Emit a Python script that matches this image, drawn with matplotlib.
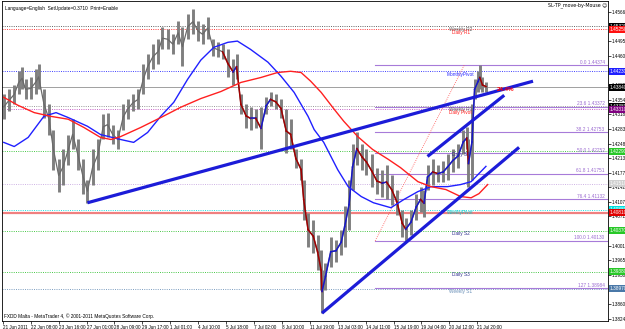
import matplotlib
matplotlib.use('Agg')
import matplotlib.pyplot as plt
import matplotlib.transforms as mtransforms

plt.rcParams['font.family'] = ['Liberation Sans', 'DejaVu Sans']

# EURUSD H1, 21 Jun - 21 Jul 2011, sampled price range (bar index, high, low)
bars = [1, 7, 13, 18, 22, 26, 32, 38, 41, 47,
        53, 58, 64, 69, 75, 80, 86, 92, 97, 103,
        109, 115, 120, 126, 132, 138, 143, 149, 155, 161,
        166, 172, 178, 183, 189, 195, 201, 206, 212, 218,
        224, 229, 235, 241, 247, 252, 258, 264, 268, 273,
        279, 284, 290, 296, 302, 307, 313, 319, 325, 330,
        336, 342, 345, 350, 356, 361, 365, 366, 370, 376,
        382, 388, 392, 397, 401, 406, 412, 417, 423, 429,
        435, 440, 446, 452, 458, 462, 468, 474, 479, 483,
        487, 493, 499, 505, 510, 516, 522, 528, 532, 534,
        538, 541, 545, 547, 550, 554]
highs = [1.4367, 1.4379, 1.4391, 1.4423, 1.4433, 1.4404, 1.4408, 1.4428, 1.4440, 1.4379,
         1.4343, 1.4282, 1.4210, 1.4234, 1.4270, 1.4307, 1.4258, 1.4210, 1.4161, 1.4234,
         1.4258, 1.4319, 1.4323, 1.4294, 1.4282, 1.4343, 1.4355, 1.4367, 1.4379, 1.4440,
         1.4464, 1.4488, 1.4501, 1.4530, 1.4525, 1.4513, 1.4544, 1.4530, 1.4561, 1.4573,
         1.4544, 1.4537, 1.4554, 1.4501, 1.4493, 1.4488, 1.4476, 1.4452, 1.4464, 1.4367,
         1.4343, 1.4336, 1.4331, 1.4336, 1.4360, 1.4372, 1.4367, 1.4355, 1.4331, 1.4307,
         1.4234, 1.4210, 1.4161, 1.4081, 1.4064, 1.4028, 1.3991, 1.3943, 1.3960, 1.4023,
         1.4016, 1.4040, 1.4096, 1.4161, 1.4246, 1.4275, 1.4246, 1.4234, 1.4222, 1.4190,
         1.4185, 1.4197, 1.4173, 1.4137, 1.4088, 1.4069, 1.4088, 1.4125, 1.4143, 1.4137,
         1.4197, 1.4210, 1.4197, 1.4205, 1.4222, 1.4234, 1.4246, 1.4282, 1.4289, 1.4258,
         1.4343, 1.4404, 1.4423, 1.4437, 1.4408, 1.4398]
lows = [1.4307, 1.4326, 1.4343, 1.4367, 1.4379, 1.4355, 1.4355, 1.4367, 1.4379, 1.4311,
        1.4270, 1.4185, 1.4132, 1.4149, 1.4197, 1.4234, 1.4185, 1.4125, 1.4105, 1.4149,
        1.4185, 1.4258, 1.4265, 1.4246, 1.4234, 1.4282, 1.4307, 1.4326, 1.4331, 1.4367,
        1.4404, 1.4428, 1.4440, 1.4476, 1.4476, 1.4464, 1.4488, 1.4435, 1.4501, 1.4513,
        1.4496, 1.4488, 1.4501, 1.4459, 1.4457, 1.4452, 1.4408, 1.4391, 1.4404, 1.4319,
        1.4287, 1.4282, 1.4287, 1.4234, 1.4319, 1.4338, 1.4331, 1.4311, 1.4226, 1.4234,
        1.4190, 1.4161, 1.4064, 1.3999, 1.3984, 1.3943, 1.3894, 1.3838, 1.3894, 1.3950,
        1.3962, 1.3979, 1.3999, 1.4040, 1.4137, 1.4197, 1.4185, 1.4173, 1.4142, 1.4125,
        1.4120, 1.4113, 1.4100, 1.4076, 1.4023, 1.4013, 1.4028, 1.4064, 1.4083, 1.4071,
        1.4137, 1.4149, 1.4154, 1.4154, 1.4161, 1.4180, 1.4190, 1.4222, 1.4234, 1.4142,
        1.4161, 1.4355, 1.4374, 1.4379, 1.4372, 1.4374]

# moving averages
blue_bars = [1, 13, 29, 47, 61, 75, 97, 112, 135, 150, 166, 181, 196, 212, 227, 242, 258, 269, 284, 304,
             319, 334, 350, 357, 368, 384, 396, 411, 425, 445, 460, 476, 491, 510, 525, 537, 554]
blue_ma = [1.4251, 1.4241, 1.4263, 1.4314, 1.4323, 1.4311, 1.4290, 1.4270, 1.4258, 1.4251,
           1.4275, 1.4314, 1.4348, 1.4404, 1.4450, 1.4481, 1.4493, 1.4496, 1.4476, 1.4445,
           1.4411, 1.4372, 1.4314, 1.4282, 1.4251, 1.4185, 1.4144, 1.4120, 1.4105, 1.4093,
           1.4113, 1.4132, 1.4144, 1.4144, 1.4149, 1.4156, 1.4193]
red_bars = [1, 17, 36, 55, 75, 93, 112, 124, 135, 158, 181, 204, 227, 250, 273, 296, 315, 330, 342, 353,
            365, 380, 391, 407, 424, 442, 456, 476, 491, 508, 525, 537, 546, 556]
red_ma = [1.4360, 1.4341, 1.4323, 1.4314, 1.4307, 1.4287, 1.4263, 1.4258, 1.4265, 1.4287,
          1.4311, 1.4336, 1.4357, 1.4374, 1.4396, 1.4408, 1.4420, 1.4423, 1.4420, 1.4399,
          1.4372, 1.4331, 1.4302, 1.4265, 1.4234, 1.4210, 1.4190, 1.4156, 1.4144, 1.4137,
          1.4120, 1.4117, 1.4127, 1.4149]

# trendlines (start bar, end bar), (start price, end price)
trend_bars = [(97, 608), (366, 592), (487, 575)]
trend_prices = [(1.4105, 1.4399), (1.3838, 1.4239), (1.4217, 1.4365)]

# pivot levels
level_names = ['Weekly R2', 'Daily R1', 'MonthlyPivot', 'Weekly R1', 'Daily Pivot', 'Daily S1',
               '', 'WeeklyPivot', '', 'Daily S2', 'Daily S3', 'Weekly S1']
level_prices = [1.4532, 1.4525, 1.4423, 1.4338, 1.4331, 1.4229,
                1.4151, 1.4088, 1.4081, 1.4037, 1.3938, 1.3897]
level_colors = ['#505050', '#ff2020', '#2828ff', '#8c8c8c', '#c050c0', '#30c030',
                '#c8a8e0', '#00d8d8', '#f08080', '#30c030', '#30c030', '#6a90b8']
level_text = ['#606060', '#ff2020', '#2828ff', '#606060', '#ff2020', '#303090',
              None, '#00c8c8', None, '#303090', '#303090', '#6a90b8']
tag_colors = ['#000000', '#ff1010', '#2020ff', '#000000', '#800080', '#28c828',
              '#d0d0d0', '#00e0e0', '#e00000', '#28c828', '#28c828', '#4a78a8']
bid = 1.4384

# fibonacci retracement
fib_high = 1.44374
fib_low = 1.40130
fib_pct = [0.0, 23.6, 38.2, 50.0, 61.8, 76.4, 100.0, 127.0]
fib_bars = (427, 529)

xtick_bars = [0, 32, 64, 96, 128, 160, 192, 224, 256, 288, 320, 352, 384, 416, 448, 480, 512, 544]
xtick_labels = ['21 Jun 2011', '22 Jun 08:00', '23 Jun 16:00', '27 Jun 01:00', '28 Jun 09:00',
                '29 Jun 17:00', '1 Jul 01:00', '4 Jul 10:00', '5 Jul 18:00', '7 Jul 02:00',
                '8 Jul 10:00', '11 Jul 19:00', '13 Jul 03:00', '14 Jul 11:00', '15 Jul 19:00',
                '19 Jul 04:00', '20 Jul 12:00', '21 Jul 20:00']
ytick_values = [1.45660, 1.45307, 1.44954, 1.44601, 1.44248, 1.43895, 1.43542, 1.43189,
                1.42836, 1.42483, 1.42130, 1.41777, 1.41424, 1.41071, 1.40718, 1.40365,
                1.40012, 1.39659, 1.39306, 1.38953, 1.38600, 1.38247]

fig = plt.figure(figsize=(6.25, 3.29), dpi=100)
ax = fig.add_axes([0.0032, 0.0243, 0.9696, 0.9727])
ax.set_xlim(-1, 694)
ax.set_ylim(1.3819, 1.4593)
tr = mtransforms.blended_transform_factory(ax.transAxes, ax.transData)

# horizontal levels
for i in range(len(level_prices)):
    p = level_prices[i]
    if level_names[i] == '' and level_colors[i] == '#f08080':
        ax.axhline(p, color=level_colors[i], lw=1.6, zorder=1)
    else:
        ax.axhline(p, color=level_colors[i], lw=0.6, ls=(0, (1.2, 1.5)), zorder=1)
    if level_names[i]:
        ax.text(525, p - 0.00015, level_names[i], fontsize=3.4, color=level_text[i],
                ha='center', va='top', zorder=5)
    ax.text(1.003, p, '%.5f' % p, transform=tr, fontsize=3.4, color='white',
            va='center', ha='left', clip_on=False,
            bbox=dict(boxstyle='square,pad=0.2', fc=tag_colors[i], ec='none'))
ax.axhline(bid, color='#a0a0a0', lw=0.7, zorder=1)
ax.text(1.003, bid, '%.5f' % bid, transform=tr, fontsize=3.4, color='white',
        va='center', ha='left', clip_on=False,
        bbox=dict(boxstyle='square,pad=0.2', fc='black', ec='none'))

# fibonacci levels
for pct in fib_pct:
    p = fib_high - pct / 100 * (fib_high - fib_low)
    ax.plot([fib_bars[0], 694], [p, p], color='#a77bd9', lw=0.8, zorder=1)
    ax.text(690, p + 0.0001, '%.1f %.5f' % (pct, p) if pct != 127.0 else '127 %.5f' % p,
            fontsize=3.4, color='#9a6ad0', ha='right', va='bottom')
ax.plot(fib_bars, [fib_low, fib_high], color='#ff5050', lw=0.6, ls=(0, (1, 1.5)), zorder=2)

# price bars
mids = [(h + l) / 2 for h, l in zip(highs, lows)]
ax.vlines(bars, lows, highs, color='#7f7f7f', lw=2.1, zorder=3)
ax.plot(bars, mids, color='#6a6a6a', lw=0.9, zorder=3)
for i in range(len(bars) - 1):
    if bars[i] < 250:
        continue
    c = '#1818c8' if mids[i + 1] > mids[i] else '#a00000'
    ax.plot(bars[i:i + 2], mids[i:i + 2], color=c, lw=1.1, zorder=4)

# moving averages
ax.plot(blue_bars, blue_ma, color='#2020ff', lw=1.0, zorder=5)
ax.plot(red_bars, red_ma, color='#ff2020', lw=1.0, zorder=5)

# trendlines
for b, p in zip(trend_bars, trend_prices):
    ax.plot(b, p, color='#1c1cd8', lw=2.3, solid_capstyle='butt', zorder=6)

ax.text(577, 1.4379, '24.4%', fontsize=4.5, color='#ff0000', fontweight='bold',
        ha='center', va='center', zorder=7)

# axes in MetaTrader style
ax.yaxis.tick_right()
ax.set_yticks(ytick_values)
ax.set_yticklabels(['%.5f' % v for v in ytick_values])
ax.set_xticks(xtick_bars)
ax.set_xticklabels(xtick_labels)
for lbl in ax.get_xticklabels():
    lbl.set_ha('left')
ax.tick_params(axis='both', labelsize=3.3, length=2, width=0.5, pad=1, colors='black')
for s in ax.spines.values():
    s.set_linewidth(0.6)

fig.text(0.008, 0.975, 'Language=English  SetUpdate=0.3710  Print=Enable', fontsize=3.4, va='center')
fig.text(0.971, 0.984, 'SL-TP_move-by-Mouse \u263a', fontsize=3.4, va='center', ha='right',
         family=['DejaVu Sans'])
fig.text(0.006, 0.04, 'FXDD Malta - MetaTrader 4, \u00a9 2001-2011 MetaQuotes Software Corp.',
         fontsize=3.4, va='center')

fig.savefig('out.png', dpi=100, facecolor='white')
